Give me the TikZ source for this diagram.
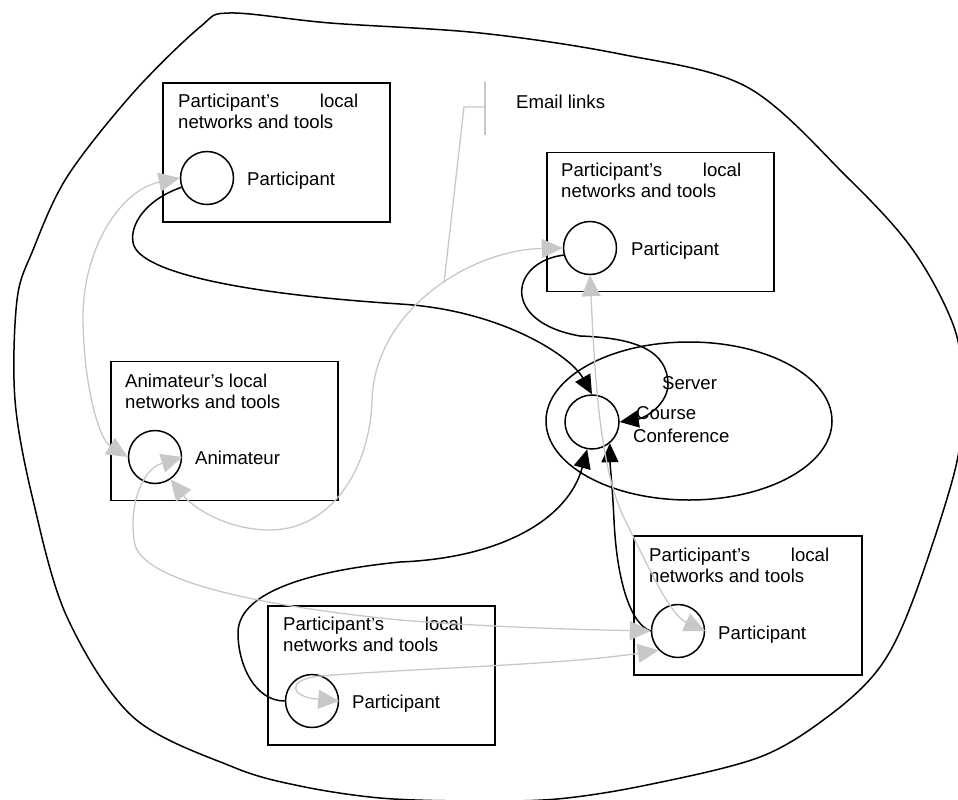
\documentclass[tikz,border=0pt]{standalone}
\usepackage{fontspec}
\setmainfont{Liberation Sans}
\usetikzlibrary{arrows.meta,shapes.geometric}
\definecolor{lgray}{RGB}{200,200,200}
\newcommand\dfont{\fontsize{18.6}{22}\selectfont}
\tikzset{
 blk/.style={line width=1.5pt, black},
 gry/.style={line width=1.3pt, lgray},
 lbox/.style={draw, line width=1.5pt, rectangle, minimum width=227pt, minimum height=139pt, inner sep=0},
 pcirc/.style={draw, circle, line width=1.5pt, minimum size=53pt, inner sep=0},
 txt/.style={inner sep=0, anchor=base west, font=\dfont},
 barr/.style={blk, -{Triangle[length=19pt,width=17pt]}},
 garr/.style={gry, {Triangle[length=21pt,width=19pt]}-{Triangle[length=21pt,width=19pt]}},
}
\begin{document}
\begin{tikzpicture}[x=1pt,y=-1pt]
\clip (0,0) rectangle (958,800);
\fill[white] (0,0) rectangle (958,800);
% outer blob
\draw[blk] plot[smooth cycle, tension=0.55] coordinates {(230,13) (330,23) (480,33) (620,54) (747,87) (847,177) (913,250) (955,330) (962,400) (955,470) (913,600) (880,667) (830,715) (760,757) (647,785) (557,799) (470,801) (380,798) (300,786) (233,767) (133,717) (67,617) (33,500) (15,400) (17,300) (33,250) (67,177) (133,93) (200,27)};
% boxes
\node[lbox] (bA) at (276.5,152.5) {};
\node[lbox] (bB) at (660.5,222) {};
\node[lbox] (bC) at (224.5,431) {};
\node[lbox] (bD) at (381.5,675.5) {};
\node[lbox, minimum width=228pt] (bE) at (748,605.5) {};
% server ellipse
\node[draw, ellipse, line width=1.5pt, minimum width=286pt, minimum height=158pt, inner sep=0] (srv) at (689,421) {};
% circles
\node[pcirc] (pA) at (207,178) {};
\node[pcirc] (pB) at (590,248) {};
\node[pcirc] (pAn) at (155,457) {};
\node[pcirc] (pD) at (312,701) {};
\node[pcirc] (pE) at (678,631) {};
\node[pcirc, minimum size=54pt] (srvC) at (592,422) {};
% texts
\node[txt] (tA1) at (178,107) {\hbox to 180pt{Participant’s\hfill local}};
\node[txt] (tA2) at (178,128.5) {networks and tools};
\node[txt] (lA) at (247,185) {Participant};
\node[txt] (tB1) at (561,176) {\hbox to 180pt{Participant’s\hfill local}};
\node[txt] (tB2) at (561,197.5) {networks and tools};
\node[txt] (lB) at (631,255) {Participant};
\node[txt] (tC1) at (125,387) {Animateur’s local};
\node[txt] (tC2) at (125,408.5) {networks and tools};
\node[txt] (lC) at (195,464) {Animateur};
\node[txt] (tD1) at (283,630) {\hbox to 180pt{Participant’s\hfill local}};
\node[txt] (tD2) at (283,651.5) {networks and tools};
\node[txt] (lD) at (352,708) {Participant};
\node[txt] (tE1) at (649,561) {\hbox to 180pt{Participant’s\hfill local}};
\node[txt] (tE2) at (649,582.5) {networks and tools};
\node[txt] (lE) at (718,639) {Participant};
\node[txt] (s1) at (662,389) {Server};
\node[txt] (s2) at (636,419) {Course};
\node[txt] (s3) at (633,442) {Conference};
\node[txt] (em) at (516,108) {Email links};
% black connectors
\draw[barr] (pA.200) .. controls (145,200) and (130,225) .. (133,242) .. controls (136,270) and (230,293) .. (400,304) .. controls (500,310) and (570,355) .. (srvC.north);
\draw[barr] (pB.195) .. controls (510,262) and (500,322) .. (580,336) .. controls (635,338) and (668,350) .. (668,385) .. controls (667,405) and (645,418) .. (srvC.east);
\draw[barr] (pD.west) .. controls (255,701) and (238,665) .. (238,633) .. controls (238,595) and (300,572) .. (400,562) .. controls (500,558) and (568,520) .. (srvC.260);
\draw[barr] (pE.west) .. controls (632,625) and (617,585) .. (614,520) .. controls (612,480) and (610,465) .. (srvC.-50);
% email links marker
\coordinate (ej) at (444,283);
\coordinate (ek) at (464,107);
\coordinate (el) at (485,107);
\coordinate (et) at (485,82);
\coordinate (eb) at (485,135);
\draw[gry] (ej) -- (ek) -- (el);
\draw[gry] (et) -- (eb);
% grey connectors
\draw[garr] (pA.west) .. controls (120,190) and (82,250) .. (83,320) .. controls (84,390) and (100,440) .. (pAn.west);
\draw[garr] (pB.west) .. controls (470,250) and (375,310) .. (372,400) .. controls (370,470) and (330,530) .. (270,530) .. controls (230,530) and (195,510) .. (pAn.-55);
\draw[garr] (pAn.east) .. controls (140,470) and (128,510) .. (135,545) .. controls (145,580) and (250,605) .. (400,620) .. controls (500,628) and (600,630) .. (pE.west);
\draw[garr] (pE.225) .. controls (560,665) and (420,668) .. (320,676) .. controls (285,680) and (290,697) .. (pD.east);
\draw[garr] (pB.south) .. controls (595,380) and (600,470) .. (625,520) .. controls (650,570) and (670,615) .. (pE.east);
\end{tikzpicture}
\end{document}
